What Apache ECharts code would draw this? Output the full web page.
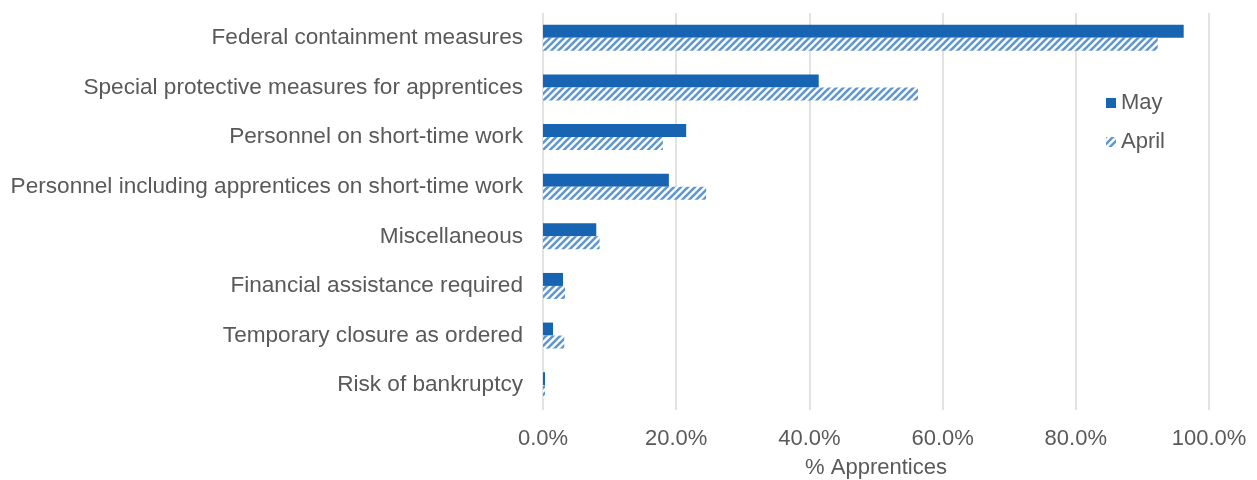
<!DOCTYPE html>
<html>
<head>
<meta charset="utf-8">
<script src="https://cdn.jsdelivr.net/npm/echarts@6/dist/echarts.min.js"></script>
<style>html,body{margin:0;padding:0;background:#fff}#c{width:1257px;height:480px}</style>
</head>
<body>
<div id="c"></div>
<script>
const categories = [
  "Federal containment measures",
  "Special protective measures for apprentices",
  "Personnel on short-time work",
  "Personnel including apprentices on short-time work",
  "Miscellaneous",
  "Financial assistance required",
  "Temporary closure as ordered",
  "Risk of bankruptcy"
];
const mayValues = [96.2, 41.4, 21.5, 18.9, 8.0, 3.0, 1.5, 0.3];
const aprilValues = [92.3, 56.3, 18.0, 24.5, 8.5, 3.3, 3.2, 0.3];
const xTicks = [0, 20, 40, 60, 80, 100];

function stripePattern() {
  const s = 7;
  const cv = document.createElement('canvas');
  cv.width = s; cv.height = s;
  const ctx = cv.getContext('2d');
  ctx.fillStyle = '#ffffff';
  ctx.fillRect(0, 0, s, s);
  ctx.strokeStyle = '#5f98d0';
  ctx.lineWidth = 2.6;
  ctx.lineCap = 'square';
  for (let k = -1; k <= 1; k++) {
    ctx.beginPath();
    ctx.moveTo(k * s, s);
    ctx.lineTo(k * s + s, 0);
    ctx.stroke();
  }
  return cv;
}

const chart = echarts.init(document.getElementById('c'), null, {renderer: 'canvas'});
const font = 'Liberation Sans, Arial, sans-serif';
chart.setOption({
  animation: false,
  textStyle: {fontFamily: font},
  grid: {left: 543, right: 48, top: 13, bottom: 70, containLabel: false, outerBoundsMode: 'none'},
  legend: {
    orient: 'vertical', left: 1101, top: 87, itemWidth: 10, itemHeight: 10, itemGap: 17,
    icon: 'rect',
    textStyle: {fontSize: 22, color: '#595959', fontFamily: font},
    data: ['May', 'April']
  },
  xAxis: {
    type: 'value', min: 0, max: 100, interval: 20,
    name: '% Apprentices', nameLocation: 'middle', nameGap: 47,
    nameTextStyle: {fontSize: 22, color: '#595959', fontFamily: font},
    axisLine: {show: false}, axisTick: {show: false},
    axisLabel: {fontSize: 22, color: '#595959', margin: 18, fontFamily: font,
      formatter: v => (xTicks.indexOf(v) >= 0 ? v.toFixed(1) + '%' : '')},
    splitLine: {lineStyle: {color: '#d9d9d9', width: 1.5}}
  },
  yAxis: {
    type: 'category', data: categories, inverse: true,
    axisLine: {show: false}, axisTick: {show: false},
    axisLabel: {fontSize: 22.6, color: '#595959', margin: 20, fontFamily: font,
      padding: [4, 0, 0, 0]}
  },
  series: [
    {name: 'May', type: 'bar', data: mayValues, barWidth: 13, barGap: '0%',
     itemStyle: {color: '#1764b2'}},
    {name: 'April', type: 'bar', data: aprilValues, barWidth: 13, barGap: '0%',
     itemStyle: {color: {image: stripePattern(), repeat: 'repeat'}}}
  ]
});
</script>
</body>
</html>
